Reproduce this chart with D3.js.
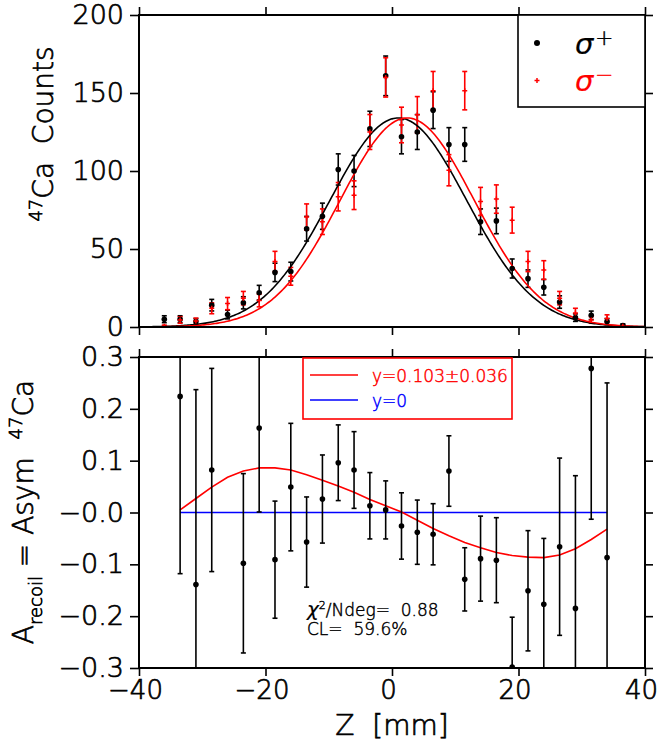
<!DOCTYPE html>
<html>
<head>
<meta charset="utf-8">
<script src="https://cdn.jsdelivr.net/npm/d3@7"></script>
<style>
    body { margin: 0; background: #fff; }
    text { font-family: "DejaVu Sans", sans-serif; font-weight: 200; white-space: pre; }
</style>
</head>
<body>
<script>
// bin centres [mm] of the count histograms
var zBins = [-36, -33.5, -31, -28.5, -26, -23.5, -21, -18.5, -16, -13.5, -11, -8.5, -6, -3.5, -1,
    1.5, 4, 6.5, 9, 11.5, 14, 16.5, 19, 21.5, 24, 26.5, 29, 31.5, 34, 36.5];

// sigma+ counts (black) and errors
var countsPlus = [5, 5, 3.5, 14, 8, 15.5, 22, 35, 35.5, 63, 71, 101, 100, 127, 161,
    122, 125, 139, 117, 117, 67.5, 68, 37.5, 31, 25.5, 16, 6, 7.5, 3.5, 1];
var errPlus = [2.2, 2.2, 1.9, 3.7, 2.8, 3.9, 4.7, 5.9, 6, 7.9, 8.4, 10, 10, 11.3, 12.7,
    11, 11.2, 11.8, 10.8, 10.8, 8.2, 8.2, 6.1, 5.6, 5, 4, 2.4, 2.7, 1.9, 1];

// sigma- counts (red) and errors
var countsMinus = [0.5, 4.5, 3.8, 12, 15, 18.5, 17, 42, 32.5, 70.5, 67.5, 83.5, 84.5, 125, 160,
    129.5, 136, 151.5, 100.5, 151.5, 80.5, 82, 68.5, 42, 36.5, 18.5, 9, 4.5, 5.5, 0.5];
var errMinus = [0.7, 2.1, 1.9, 3.5, 3.9, 4.3, 4.1, 6.5, 5.7, 8.4, 8.2, 9.1, 9.2, 11.2, 12.6,
    11.4, 11.7, 12.3, 10, 12.3, 9, 9.1, 8.3, 6.5, 6, 4.3, 3, 2.1, 2.3, 0.7];

// gaussian fit results
var fitPlus = { amp: 134, mean: 1.0, sigma: 10.8 };
var fitMinus = { amp: 134, mean: 2.4, sigma: 10.6 };

// recoil asymmetry per bin
var asymZ = [-33.5, -31, -28.5, -23.5, -21, -18.5, -16, -13.5, -11, -8.5, -6, -3.5, -1,
    1.5, 4, 6.5, 9, 11.5, 14, 16.5, 19, 21.5, 24, 26.5, 29, 31.5, 34];
var asymVal = [0.224, -0.139, 0.082, -0.098, 0.163, -0.091, 0.049, -0.057, 0.026, 0.096, 0.082, 0.013, 0.005,
    -0.026, -0.038, -0.042, 0.080, -0.129, -0.089, -0.092, -0.298, -0.151, -0.177, -0.066, -0.185, 0.278, -0.087];
var asymErr = [0.342, 0.376, 0.196, 0.173, 0.162, 0.113, 0.123, 0.087, 0.085, 0.073, 0.074, 0.064, 0.056,
    0.064, 0.062, 0.059, 0.068, 0.061, 0.082, 0.082, 0.096, 0.116, 0.127, 0.171, 0.256, 0.291, 0.337];

// asymmetry fit curve (y=0.103 +- 0.036)
var asymFitZ = [-33.5, -31, -28.5, -26, -23.5, -21, -18.5, -16, -13.5, -11, -8.5, -6, -3.5, -1,
    1.5, 4, 6.5, 9, 11.5, 14, 16.5, 19, 21.5, 24, 26.5, 29, 31.5, 34];
var asymFitVal = [0.005, 0.027, 0.049, 0.068, 0.080, 0.086, 0.086, 0.082, 0.073, 0.062, 0.051, 0.039, 0.025, 0.013,
    0.001, -0.015, -0.031, -0.045, -0.058, -0.068, -0.077, -0.083, -0.086, -0.087, -0.082, -0.070, -0.052, -0.032];

// ticks
var zTicks = [-40, -20, 0, 20, 40];
var zTickLabels = ["\u221240", "\u221220", "0", "20", "40"];
var countTicks = [0, 50, 100, 150, 200];
var countTickLabels = ["0", "50", "100", "150", "200"];
var asymTicks = [-0.3, -0.2, -0.1, 0, 0.1, 0.2, 0.3];
var asymTickLabels = ["\u22120.3", "\u22120.2", "\u22120.1", "\u22120.0", "0.1", "0.2", "0.3"];

var width = 659, height = 744;
var left = 139, right = 645;
var nb = "\u00a0";

var svg = d3.select("body").append("svg")
    .attr("width", width)
    .attr("height", height);

var x = d3.scaleLinear().domain([-40, 40]).range([left, right]);
var yTop = d3.scaleLinear().domain([0, 200]).range([327, 15]);
var yBot = d3.scaleLinear().domain([-0.3, 0.3]).range([668, 357]);

var defs = svg.append("defs");
defs.append("clipPath").attr("id", "clipTop")
    .append("rect").attr("x", left).attr("y", 15).attr("width", right - left).attr("height", 312);
defs.append("clipPath").attr("id", "clipBot")
    .append("rect").attr("x", left).attr("y", 357).attr("width", right - left).attr("height", 311);

// thin font, thickened a little with a stroke of its own colour
function ink(sel, color, w) {
    return sel.attr("fill", color).attr("stroke", color).attr("stroke-width", w || 0.7);
}

function styleAxis(g) {
    g.select(".domain").remove();
    g.selectAll("line").attr("stroke", "#000").attr("stroke-width", 1.6);
    g.selectAll("text").attr("font-size", 27).call(ink, "#000");
}

function drawAxes(y, yTicks, yLabels, showX) {
    var r = y.range();
    svg.append("g").attr("transform", "translate(0," + r[0] + ")")
        .call(d3.axisBottom(x).tickValues(zTicks).tickSize(8).tickSizeOuter(0).tickPadding(5)
            .tickFormat(function (d, i) { return showX ? zTickLabels[i] : ""; }))
        .call(styleAxis)
        .selectAll("text").attr("font-size", 26).attr("dx", -4);
    svg.append("g").attr("transform", "translate(0," + r[1] + ")")
        .call(d3.axisTop(x).tickValues(zTicks).tickSize(8).tickSizeOuter(0).tickFormat(""))
        .call(styleAxis);
    svg.append("g").attr("transform", "translate(" + left + ",0)")
        .call(d3.axisLeft(y).tickValues(yTicks).tickSize(9).tickSizeOuter(0).tickPadding(6)
            .tickFormat(function (d, i) { return yLabels[i]; }))
        .call(styleAxis);
    svg.append("g").attr("transform", "translate(" + right + ",0)")
        .call(d3.axisRight(y).tickValues(yTicks).tickSize(8).tickSizeOuter(0).tickFormat(""))
        .call(styleAxis);
    svg.append("rect")
        .attr("x", left).attr("y", r[1])
        .attr("width", right - left).attr("height", r[0] - r[1])
        .attr("fill", "none").attr("stroke", "#000").attr("stroke-width", 2);
}

function errorBars(g, xs, ys, es, y, color, cap) {
    var data = xs.map(function (z, i) { return { z: z, v: ys[i], e: es[i] }; });
    var eb = g.append("g").attr("stroke", color).attr("stroke-width", 1.6);
    eb.selectAll(".v").data(data).enter().append("line")
        .attr("x1", function (d) { return x(d.z); }).attr("x2", function (d) { return x(d.z); })
        .attr("y1", function (d) { return y(d.v - d.e); }).attr("y2", function (d) { return y(d.v + d.e); });
    [-1, 1].forEach(function (s) {
        eb.selectAll(".c" + s).data(data).enter().append("line")
            .attr("x1", function (d) { return x(d.z) - cap; }).attr("x2", function (d) { return x(d.z) + cap; })
            .attr("y1", function (d) { return y(d.v + s * d.e); }).attr("y2", function (d) { return y(d.v + s * d.e); });
    });
    return data;
}

// ---------- top panel: counts ----------
var topPanel = svg.append("g").attr("clip-path", "url(#clipTop)");

function gauss(p) {
    return d3.range(-40, 40.01, 0.25).map(function (z) {
        return [z, p.amp * Math.exp(-(z - p.mean) * (z - p.mean) / (2 * p.sigma * p.sigma))];
    });
}
var curve = d3.line().x(function (d) { return x(d[0]); }).y(function (d) { return yTop(d[1]); });

var plusData = errorBars(topPanel, zBins, countsPlus, errPlus, yTop, "#000", 2.5);
var minusData = errorBars(topPanel, zBins, countsMinus, errMinus, yTop, "#f00", 2.5);

topPanel.append("path").attr("d", curve(gauss(fitPlus)))
    .attr("fill", "none").attr("stroke", "#000").attr("stroke-width", 1.6);
topPanel.append("path").attr("d", curve(gauss(fitMinus)))
    .attr("fill", "none").attr("stroke", "#f00").attr("stroke-width", 1.6);

topPanel.selectAll(".pp").data(plusData).enter().append("circle")
    .attr("cx", function (d) { return x(d.z); }).attr("cy", function (d) { return yTop(d.v); })
    .attr("r", 2.8).attr("fill", "#000");
topPanel.selectAll(".pm").data(minusData).enter().append("path")
    .attr("d", function (d) {
        var cx = x(d.z), cy = yTop(d.v);
        return "M" + (cx - 2.5) + "," + cy + "H" + (cx + 2.5) + "M" + cx + "," + (cy - 2.5) + "V" + (cy + 2.5);
    })
    .attr("stroke", "#f00").attr("stroke-width", 1.5);

drawAxes(yTop, countTicks, countTickLabels, false);

// legend
var leg = svg.append("g");
leg.append("rect").attr("x", 518).attr("y", 15).attr("width", 127).attr("height", 92)
    .attr("fill", "#fff").attr("stroke", "#000").attr("stroke-width", 1.6);
leg.append("circle").attr("cx", 537).attr("cy", 43).attr("r", 3).attr("fill", "#000");
leg.append("path").attr("d", "M534.5,80.5H539.5M537,78V83").attr("stroke", "#f00").attr("stroke-width", 1.5);
leg.append("text").attr("x", 575).attr("y", 54).attr("font-size", 29).attr("font-style", "italic")
    .call(ink, "#000", 0.2).text("σ");
leg.append("text").attr("x", 595).attr("y", 45).attr("font-size", 22).call(ink, "#000", 0.4).text("+");
leg.append("text").attr("x", 575).attr("y", 91).attr("font-size", 29).attr("font-style", "italic")
    .call(ink, "#f00", 0.2).text("σ");
leg.append("text").attr("x", 595).attr("y", 82).attr("font-size", 22).call(ink, "#f00", 0.4).text("\u2212");

// y label top
var ylab1 = svg.append("text")
    .attr("transform", "translate(53,134) rotate(-90)")
    .attr("text-anchor", "middle").attr("font-size", 28).call(ink, "#000");
ylab1.append("tspan").attr("font-size", 18).attr("dy", -11).text("47");
ylab1.append("tspan").attr("dy", 11).text("Ca" + nb + nb + "Counts");

// ---------- bottom panel: asymmetry ----------
var botPanel = svg.append("g").attr("clip-path", "url(#clipBot)");

botPanel.append("line").attr("x1", x(asymZ[0])).attr("x2", x(asymZ[asymZ.length - 1]))
    .attr("y1", yBot(0)).attr("y2", yBot(0))
    .attr("stroke", "#00f").attr("stroke-width", 1.6);

var fitLine = d3.line().x(function (d) { return x(d[0]); }).y(function (d) { return yBot(d[1]); });
botPanel.append("path").attr("d", fitLine(asymFitZ.map(function (z, i) { return [z, asymFitVal[i]]; })))
    .attr("fill", "none").attr("stroke", "#f00").attr("stroke-width", 1.6);

var asymData = errorBars(botPanel, asymZ, asymVal, asymErr, yBot, "#000", 2.5);
botPanel.selectAll(".ap").data(asymData).enter().append("circle")
    .attr("cx", function (d) { return x(d.z); }).attr("cy", function (d) { return yBot(d.v); })
    .attr("r", 2.8).attr("fill", "#000");

drawAxes(yBot, asymTicks, asymTickLabels, true);

// legend bottom
var leg2 = svg.append("g");
leg2.append("rect").attr("x", 303).attr("y", 358).attr("width", 209).attr("height", 61)
    .attr("fill", "#fff").attr("stroke", "#f00").attr("stroke-width", 1.6);
leg2.append("line").attr("x1", 310).attr("x2", 358).attr("y1", 375).attr("y2", 375)
    .attr("stroke", "#f00").attr("stroke-width", 1.5);
leg2.append("line").attr("x1", 310).attr("x2", 358).attr("y1", 400).attr("y2", 400)
    .attr("stroke", "#00f").attr("stroke-width", 1.5);
leg2.append("text").attr("x", 372).attr("y", 382).attr("font-size", 17)
    .call(ink, "#f00", 0.45).text("y=0.103±0.036");
leg2.append("text").attr("x", 372).attr("y", 407).attr("font-size", 17)
    .call(ink, "#00f", 0.45).text("y=0");

// fit quality
var chi = svg.append("text").attr("x", 307).attr("y", 616).attr("font-size", 17).call(ink, "#000", 0.45);
chi.append("tspan").attr("font-style", "italic").attr("font-size", 20).attr("stroke-width", 0.2).text("χ");
chi.append("tspan").attr("font-size", 11).attr("dy", -7).text("2");
chi.append("tspan").attr("dy", 7).text("/Ndeg=" + nb + nb + "0.88");
svg.append("text").attr("x", 307).attr("y", 635).attr("font-size", 17).call(ink, "#000", 0.45)
    .text("CL=" + nb + nb + "59.6%");

// y label bottom
var ylab2 = svg.append("text")
    .attr("transform", "translate(33,512) rotate(-90)")
    .attr("text-anchor", "middle").attr("font-size", 28).call(ink, "#000");
ylab2.append("tspan").text("A");
ylab2.append("tspan").attr("font-size", 18).attr("dy", 9).text("recoil");
ylab2.append("tspan").attr("dy", -9).text(nb + "=" + nb + "Asym" + nb + nb);
ylab2.append("tspan").attr("font-size", 18).attr("dy", -11).text("47");
ylab2.append("tspan").attr("dy", 11).text("Ca");

// x label
svg.append("text").attr("x", 392).attr("y", 735).attr("text-anchor", "middle")
    .attr("font-size", 28).call(ink, "#000").text("Z" + nb + nb + "[mm]");
</script>
</body>
</html>
